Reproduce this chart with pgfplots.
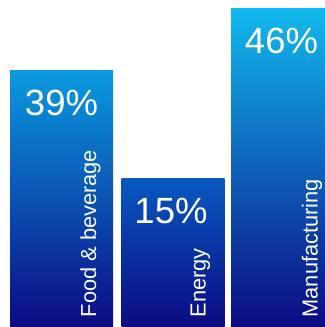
\documentclass[border=0pt]{standalone}
\usepackage{pgfplots}
\pgfplotsset{compat=1.18}
\usepackage{fontspec}
\setmainfont{Liberation Sans}
\definecolor{navy}{RGB}{12,10,130}
\definecolor{aT}{RGB}{10,154,224}
\definecolor{aM}{RGB}{8,76,183}
\definecolor{bT}{RGB}{8,88,192}
\definecolor{bM}{RGB}{8,44,158}
\definecolor{cT}{RGB}{18,184,238}
\definecolor{cM}{RGB}{8,95,195}
\begin{document}
\begin{tikzpicture}
\begin{axis}[
  width=325bp, height=327bp, scale only axis,
  xmin=0, xmax=325, ymin=0, ymax=327,
  axis line style={draw=none}, ticks=none,
  ybar, bar width=103, bar shift=0pt,
]
\addplot[draw=none, top color=aT, middle color=aM, bottom color=navy] coordinates {(61.5,256)};
\addplot[draw=none, top color=bT, middle color=bM, bottom color=navy] coordinates {(173,148)};
\addplot[draw=none, top color=cT, middle color=cM, bottom color=navy] coordinates {(282.5,318)};
\node[white, font=\fontsize{36.5bp}{36.5bp}\selectfont, anchor=north, inner sep=0pt] at (axis cs:61.5,237.5) {39\%};
\node[white, font=\fontsize{36.5bp}{36.5bp}\selectfont, anchor=north, inner sep=0pt] at (axis cs:171,129.5) {15\%};
\node[white, font=\fontsize{36.5bp}{36.5bp}\selectfont, anchor=north, inner sep=0pt] at (axis cs:281.5,299.5) {46\%};
\node[white, font=\fontsize{21.8bp}{21.8bp}\selectfont, rotate=90, anchor=base west, inner sep=0pt] at (axis cs:96,9.5) {Food \& beverage};
\node[white, font=\fontsize{21.8bp}{21.8bp}\selectfont, rotate=90, anchor=base west, inner sep=0pt] at (axis cs:205.5,9.5) {Energy};
\node[white, font=\fontsize{21.8bp}{21.8bp}\selectfont, rotate=90, anchor=base west, inner sep=0pt] at (axis cs:317.5,9.5) {Manufacturing};
\end{axis}
\end{tikzpicture}
\end{document}
